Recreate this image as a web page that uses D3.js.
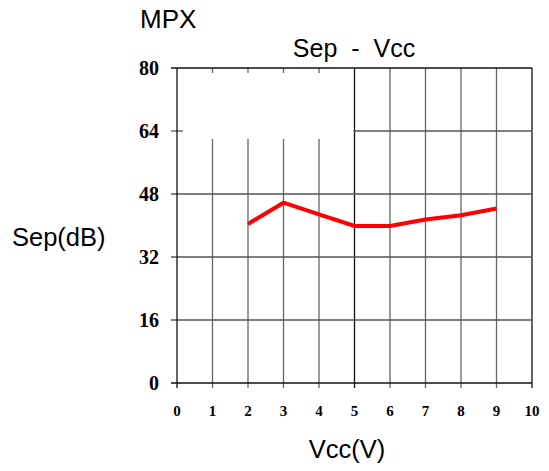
<!DOCTYPE html>
<html><head><meta charset="utf-8">
<script src="https://cdn.jsdelivr.net/npm/d3@7"></script>
<style>body{margin:0;background:#fff}</style>
</head><body>
<svg id="c" width="549" height="471"></svg>
<script>
const vcc = [2,3,4,5,6,7,8,9];
const sep = [40.4,45.8,42.8,39.9,39.9,41.5,42.6,44.3];
const xTicks = [0,1,2,3,4,5,6,7,8,9,10];
const yTicks = [0,16,32,48,64,80];

const svg = d3.select("#c");
const x = d3.scaleLinear().domain([0,10]).range([177,532]);
const y = d3.scaleLinear().domain([0,80]).range([383,68]);

const g = svg.append("g");
// vertical grid
xTicks.forEach(t=>{
  if (t===0) return;
  const top = (t>=1 && t<=4) ? y(62) : y(80);
  g.append("line").attr("x1",x(t)).attr("x2",x(t)).attr("y1",top).attr("y2",y(0)+5)
   .attr("stroke", t===5||t===10 ? "#111" : "#666").attr("stroke-width",1.3);
  if (t>=1 && t<=4) {
    g.append("line").attr("x1",x(t)).attr("x2",x(t)).attr("y1",y(80)).attr("y2",y(80)+5)
     .attr("stroke","#666").attr("stroke-width",1.3);
  }
});
// horizontal grid
yTicks.forEach(t=>{
  g.append("line").attr("x1",x(0)-6).attr("x2", t===64 ? x(0)+6 : x(10)).attr("y1",y(t)).attr("y2",y(t))
   .attr("stroke", t===0||t===80 ? "#111" : "#555").attr("stroke-width",1.3);
  if (t===64) {
    g.append("line").attr("x1",x(5)-1).attr("x2",x(10)).attr("y1",y(t)).attr("y2",y(t))
     .attr("stroke","#555").attr("stroke-width",1.3);
  }
});
g.append("line").attr("x1",x(0)).attr("x2",x(0)).attr("y1",y(80)).attr("y2",y(0)+5)
 .attr("stroke","#111").attr("stroke-width",1.3);

// tick labels
svg.append("g").selectAll("text").data(yTicks).join("text")
  .attr("x",159).attr("y",d=>y(d)).attr("dy","0.35em").attr("text-anchor","end")
  .attr("font-family","Liberation Serif").attr("font-weight","bold").attr("font-size",20)
  .text(d=>d);
svg.append("g").selectAll("text").data(xTicks).join("text")
  .attr("x",d=>x(d)).attr("y",411).attr("dy","0.35em").attr("text-anchor","middle")
  .attr("font-family","Liberation Serif").attr("font-weight","bold").attr("font-size",15)
  .text(d=>d);

// line
svg.append("path").datum(vcc.map((v,i)=>[v,sep[i]]))
  .attr("d", d3.line().x(d=>x(d[0])).y(d=>y(d[1])))
  .attr("fill","none").attr("stroke","#ff0000").attr("stroke-width",4);

// texts
const sans = "Liberation Sans";
svg.append("text").attr("x",140).attr("y",28).attr("font-family",sans).attr("font-size",26).text("MPX");
svg.append("text").attr("x",354).attr("y",57).attr("text-anchor","middle").attr("font-family",sans).attr("font-size",25).attr("xml:space","preserve").text("Sep  -  Vcc");
svg.append("text").attr("x",12).attr("y",246).attr("font-family",sans).attr("font-size",25.5).text("Sep(dB)");
svg.append("text").attr("x",347).attr("y",458).attr("text-anchor","middle").attr("font-family",sans).attr("font-size",25.5).text("Vcc(V)");
</script>
</body></html>
